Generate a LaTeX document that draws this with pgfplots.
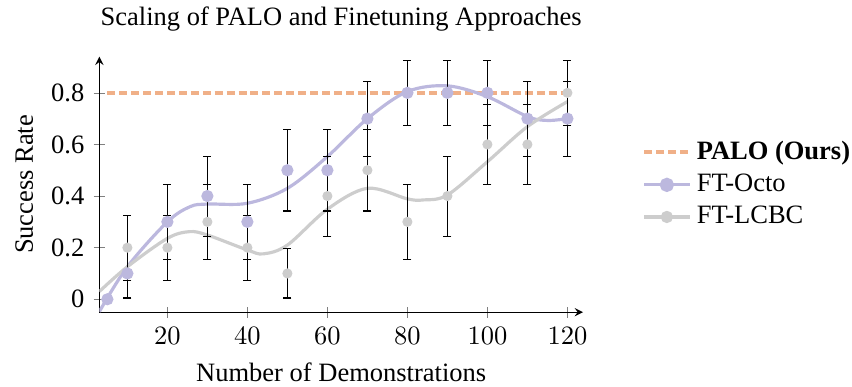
\documentclass[border=0pt]{standalone}
\usepackage{pgfplots}
\pgfplotsset{compat=1.18}
\usepackage{fontspec}
\setmainfont{Liberation Serif}
\definecolor{palo}{RGB}{240,176,136}
\definecolor{octo}{RGB}{188,184,222}
\definecolor{lcbc}{RGB}{205,205,205}
\begin{document}
\begin{tikzpicture}
\begin{axis}[
  name=ax,
  scale only axis,
  width=182.5pt, height=96.4pt,
  xmin=3, xmax=123.9, ymin=-0.05, ymax=0.94,
  axis lines=left,
  tick align=center,
  xtick={20,40,60,80,100,120},
  ytick={0,0.2,0.4,0.6,0.8},
  yticklabels={0,0.2,0.4,0.6,0.8},
  title={Scaling of PALO and Finetuning Approaches},
  xlabel={Number of Demonstrations},
  ylabel={Success Rate},
  legend style={draw=none, fill=none, at={(1.105,0.5)}, anchor=west, font=\normalsize, cells={anchor=west}},
  legend cell align=left,
]
\addlegendimage{palo, line width=1.5pt, dash pattern=on 3pt off 1.5pt}
\addlegendentry{\textbf{PALO (Ours)}}
\addlegendimage{octo, line width=1.2pt, mark=*, mark size=2.1pt, mark options={solid}}
\addlegendentry{FT-Octo}
\addlegendimage{lcbc, line width=1.2pt, mark=*, mark size=1.7pt, mark options={solid}}
\addlegendentry{FT-LCBC}

\addplot[forget plot, palo, line width=1.5pt, dash pattern=on 3pt off 1.5pt] coordinates {(5,0.8) (120,0.8)};

\addplot[forget plot, octo, line width=1.2pt, smooth, tension=0.55] coordinates {
(3,-0.048) (10,0.126) (20,0.30) (25.7,0.359) (30,0.369) (40,0.372) (50,0.43) (60,0.553) (70,0.70) (80,0.805) (90,0.827) (100,0.785) (110,0.708) (115,0.693) (120,0.70)};
\addplot[forget plot, lcbc, line width=1.2pt, smooth, tension=0.55] coordinates {
(3,0.03) (10,0.126) (20,0.236) (25.5,0.262) (30,0.249) (40,0.191) (44,0.176) (50,0.21) (60,0.349) (70,0.43) (80,0.389) (84,0.385) (90,0.404) (100,0.533) (110,0.669) (120,0.766)};

\addplot[forget plot, only marks, mark=*, mark size=1.7pt, lcbc,
  error bars/.cd, y dir=both, y explicit,
  error bar style={black, line width=0.4pt},
  error mark options={black, rotate=90, mark size=1.5pt, line width=0.4pt}]
  table[x=x, y=y, y error=e] {
x y e
5 0 0
10 0.2 0.126
20 0.2 0.126
30 0.3 0.145
40 0.2 0.126
50 0.1 0.095
60 0.4 0.155
70 0.5 0.158
80 0.3 0.145
90 0.4 0.155
100 0.6 0.155
110 0.6 0.155
120 0.8 0.126
};
\addplot[forget plot, only marks, mark=*, mark size=2.1pt, octo,
  error bars/.cd, y dir=both, y explicit,
  error bar style={black, line width=0.4pt},
  error mark options={black, rotate=90, mark size=1.5pt, line width=0.4pt}]
  table[x=x, y=y, y error=e] {
x y e
5 0 0
10 0.1 0.095
20 0.3 0.145
30 0.4 0.155
40 0.3 0.145
50 0.5 0.158
60 0.5 0.158
70 0.7 0.145
80 0.8 0.126
90 0.8 0.126
100 0.8 0.126
110 0.7 0.145
120 0.7 0.145
};
\end{axis}
\pgfresetboundingbox
\useasboundingbox ([shift={(-37.5pt,-28.2pt)}]ax.south west) rectangle ++(321.5pt,146pt);
\end{tikzpicture}
\end{document}
